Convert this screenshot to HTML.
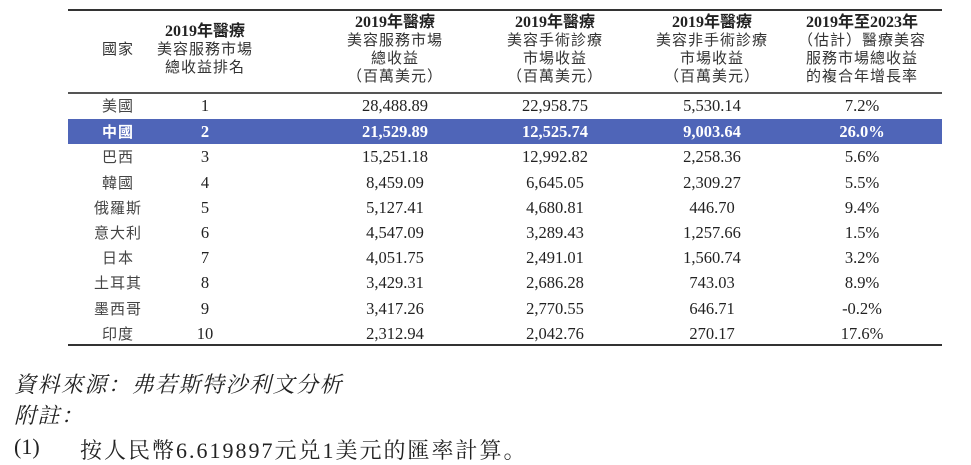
<!DOCTYPE html>
<html><head><meta charset="utf-8"><style>
body{margin:0;width:971px;height:462px;background:#fff;position:relative;overflow:hidden;color:#222;font-family:"Liberation Serif","Noto Sans CJK TC",serif;}
.l{position:absolute;left:68px;width:874px;background:#333;}
.h{position:absolute;top:14px;font-size:15px;line-height:18px;text-align:center;letter-spacing:1px;font-family:"Liberation Serif","Noto Sans CJK TC",serif;color:#333}
.h b{font-weight:bold;letter-spacing:0;color:#222;font-size:16px}
.r{position:absolute;left:68px;width:874px;height:25.3px;font-size:16.5px;}
.r div{position:absolute;top:0;line-height:25px;text-align:center;width:160px;}
.hl{background:#4f65b8;color:#fff;font-weight:bold;}
.f{position:absolute;left:14px;font-size:22px;letter-spacing:1.5px;font-family:"Liberation Serif","Noto Serif CJK SC",serif;color:#222}
</style></head><body>
<div class="l" style="top:9px;height:2px"></div>
<div class="l" style="top:92px;height:2px;background:#555"></div>
<div class="l" style="top:344px;height:2px"></div>
<div class="h" style="left:78px;width:80px;top:41px">國家</div>
<div class="h" style="left:140px;width:130px;top:23px"><b>2019年醫療</b><br>美容服務市場<br>總收益排名</div>
<div class="h" style="left:315px;width:160px"><b>2019年醫療</b><br>美容服務市場<br>總收益<br>（百萬美元）</div>
<div class="h" style="left:475px;width:160px"><b>2019年醫療</b><br>美容手術診療<br>市場收益<br>（百萬美元）</div>
<div class="h" style="left:632px;width:160px"><b>2019年醫療</b><br>美容非手術診療<br>市場收益<br>（百萬美元）</div>
<div class="h" style="left:782px;width:160px"><b>2019年至2023年</b><br>（估計）醫療美容<br>服務市場總收益<br>的複合年增長率</div>
<div id="rows"></div>
<script>
var d=[["美國","1","28,488.89","22,958.75","5,530.14","7.2%"],["中國","2","21,529.89","12,525.74","9,003.64","26.0%"],["巴西","3","15,251.18","12,992.82","2,258.36","5.6%"],["韓國","4","8,459.09","6,645.05","2,309.27","5.5%"],["俄羅斯","5","5,127.41","4,680.81","446.70","9.4%"],["意大利","6","4,547.09","3,289.43","1,257.66","1.5%"],["日本","7","4,051.75","2,491.01","1,560.74","3.2%"],["土耳其","8","3,429.31","2,686.28","743.03","8.9%"],["墨西哥","9","3,417.26","2,770.55","646.71","-0.2%"],["印度","10","2,312.94","2,042.76","270.17","17.6%"]];
var c=[50,137,327,487,644,794],h="";
d.forEach(function(r,i){h+='<div class="r'+(i==1?' hl':'')+'" style="top:'+(93+i*25.2+(i>0?1:0))+'px">';r.forEach(function(v,j){h+='<div style="left:'+(c[j]-80)+'px'+(j==0?';font-size:15px;letter-spacing:1px;font-family:\'Noto Sans CJK TC\',sans-serif;font-weight:'+(i==1?'bold':'normal;color:#444'):'')+'">'+v+'</div>'});h+='</div>'});
document.getElementById('rows').innerHTML=h;
</script>
<div class="f" style="top:368px;font-style:italic">資料來源：弗若斯特沙利文分析</div>
<div class="f" style="top:399px;font-style:italic">附註：</div>
<div class="f" style="top:434px;letter-spacing:0">(1)<span style="position:absolute;left:66px;white-space:nowrap;letter-spacing:2px">按人民幣6.619897元兑1美元的匯率計算。</span></div>
</body></html>
